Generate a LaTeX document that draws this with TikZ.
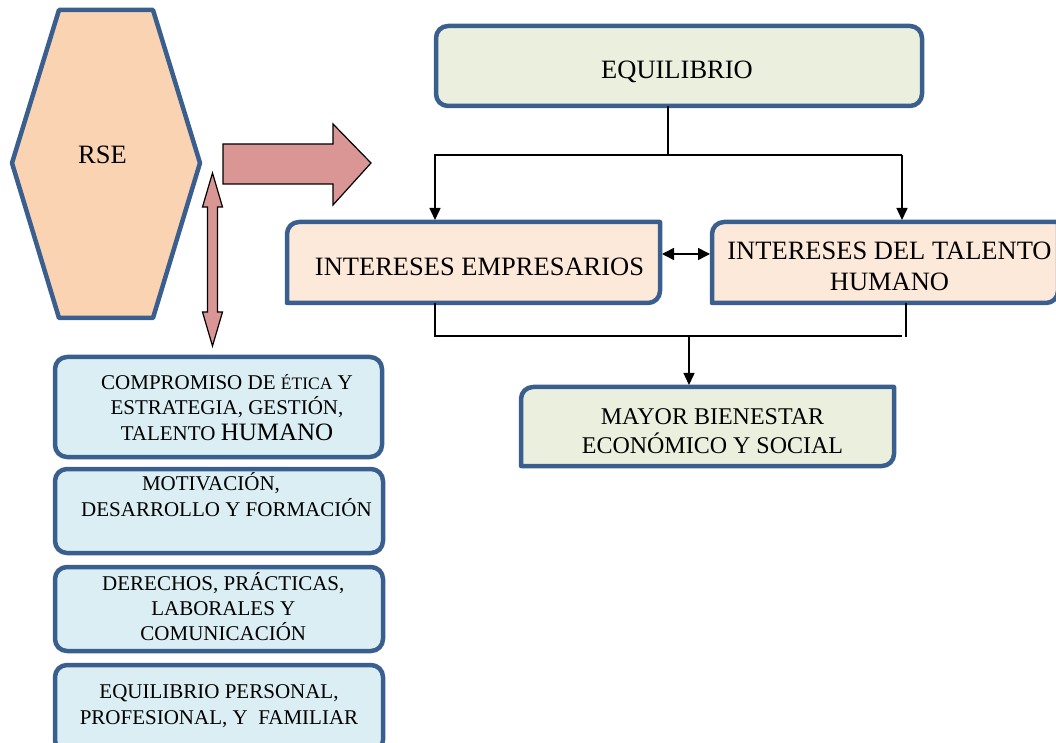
\documentclass[tikz,border=0pt]{standalone}
\usepackage{fontspec}
\setmainfont{Liberation Serif}
\usetikzlibrary{arrows.meta,calc}
\definecolor{edgeblue}{HTML}{3A5F8E}
\definecolor{peach}{HTML}{FAD3B3}
\definecolor{rosefill}{HTML}{D99694}
\definecolor{olivefill}{HTML}{EAF0DD}
\definecolor{creamfill}{HTML}{FDE9D9}
\definecolor{aquafill}{HTML}{DBEEF4}
% centred multi-line text whose baseline is the first line
\newcommand\mlines[1]{\begin{tabular}[t]{@{}c@{}}#1\end{tabular}}
% box with rounded top-left and bottom-right corners around node #1
\newcommand\halfround[2]{%
  \draw[outline, fill=#2] ([yshift=-12pt]#1.north west)
    arc[start angle=180, end angle=90, radius=12pt] -- (#1.north east)
    -- ([yshift=12pt]#1.south east)
    arc[start angle=0, end angle=-90, radius=12pt] -- (#1.south west) -- cycle;}
\begin{document}
\begin{tikzpicture}[x=1pt, y=1pt,
  outline/.style={draw=edgeblue, line width=4.5pt, line join=round},
  area/.style 2 args={inner sep=0pt, outer sep=0pt, minimum width=#1, minimum height=#2},
  roundbox/.style={outline, rounded corners=12pt},
  bigtxt/.style={font=\fontsize{26.5}{31.4}\selectfont, inner sep=0pt, anchor=base},
  midtxt/.style={font=\fontsize{24}{29}\selectfont, inner sep=0pt, anchor=base},
  smalltxt/.style={font=\fontsize{21}{25.5}\selectfont, inner sep=0pt, anchor=base},
  wire/.style={line width=1.5pt, draw=black},
  arrowed/.style={wire, -{Triangle[length=12pt, width=11pt]}, shorten >=2pt},
  twoway/.style={wire, {Triangle[length=12pt, width=12pt]}-{Triangle[length=12pt, width=12pt]},
    shorten >=2pt, shorten <=2pt},
  blockarrow/.style={draw=black, line width=1.2pt, fill=rosefill, line join=miter}]
\useasboundingbox (0,0) rectangle (1056,742);

% RSE hexagon
\draw[outline, fill=peach] (59,732) -- (153,732) -- (200,579) -- (153,424)
  -- (59,424) -- (12,579) -- cycle;
\node[bigtxt] (rse) at (102.5,578.7) {RSE};

% block arrows
\draw[blockarrow] (223,598) -- (333,598) -- (333,618) -- (371,579) -- (333,537)
  -- (333,558) -- (223,558) -- cycle;
\draw[blockarrow] (212.5,569) -- (222.5,535) -- (217.5,535) -- (217.5,430)
  -- (222.5,430) -- (212.5,396) -- (202.5,430) -- (207.5,430) -- (207.5,535)
  -- (202.5,535) -- cycle;

% top box
\node[area={486pt}{80pt}, roundbox, fill=olivefill] (equi) at (679,676) {};
\node[bigtxt] (equitxt) at (677,663.7) {EQUILIBRIO};

% interest boxes
\node[area={373pt}{81pt}] (ie) at (473.5,479.5) {};
\halfround{ie}{creamfill}
\node[bigtxt] (ietxt) at (479.5,466) {INTERESES EMPRESARIOS};
\node[area={346pt}{81pt}] (it) at (885,479.5) {};
\halfround{it}{creamfill}
\node[bigtxt] (ittxt) at (889.5,482.7) {\mlines{INTERESES DEL TALENTO\\HUMANO}};

% result box
\node[area={373pt}{79pt}] (mayor) at (707.5,315.5) {};
\halfround{mayor}{olivefill}
\node[midtxt] (mayortxt) at (712.5,317.7) {\mlines{MAYOR BIENESTAR\\ECONÓMICO Y SOCIAL}};

% connectors
\coordinate (busL) at (435,587);
\coordinate (busR) at (902,587);
\draw[wire] ([xshift=-11pt]equi.south) -- ([xshift=-11pt]equi.south |- busL);
\draw[arrowed] (busR) -- (busL) -- (busL |- ie.north);
\draw[arrowed] (busR) -- (busR |- it.north);
\draw[twoway] ([yshift=8.5pt]ie.east) -- ([yshift=8.5pt]it.west);

\coordinate (joinL) at (435,406);
\coordinate (joinR) at (902,406);
\coordinate (dropR) at (906,405);
\coordinate (joinM) at (689,406);
\draw[wire] (joinL |- ie.south) -- (joinL) -- (joinR);
\draw[wire] (dropR |- it.south) -- (dropR);
\draw[arrowed] (joinM) -- (joinM |- mayor.north);

% left column of boxes
\node[area={327pt}{100pt}, roundbox, fill=aquafill] (b1) at (218.5,335) {};
\node[smalltxt] (b1txt) at (227,352.7) {\mlines{COMPROMISO DE {\fontsize{17.5}{25.5}\selectfont ÉTICA} Y\\
  ESTRATEGIA, GESTIÓN,\\TALENTO {\fontsize{25}{25.5}\selectfont HUMANO}}};

\node[area={328pt}{84pt}, roundbox, fill=aquafill] (b2) at (219,231) {};
\node[smalltxt, font=\fontsize{21}{26.7}\selectfont] (b2txt) at (226.5,252)
  {\mlines{MOTIVACIÓN,\hspace*{31pt}\\DESARROLLO Y FORMACIÓN}};

\node[area={328pt}{84pt}, roundbox, fill=aquafill] (b3) at (219,133) {};
\node[smalltxt, font=\fontsize{21}{25}\selectfont] (b3txt) at (223.3,152)
  {\mlines{DERECHOS, PRÁCTICAS,\\LABORALES Y\\COMUNICACIÓN}};

\node[area={328pt}{87pt}, roundbox, fill=aquafill] (b4) at (219,33.5) {};
\node[smalltxt, font=\fontsize{21}{25.7}\selectfont] (b4txt) at (219,43.7)
  {\mlines{EQUILIBRIO PERSONAL,\\PROFESIONAL, Y\ \ FAMILIAR}};
\end{tikzpicture}
\end{document}
